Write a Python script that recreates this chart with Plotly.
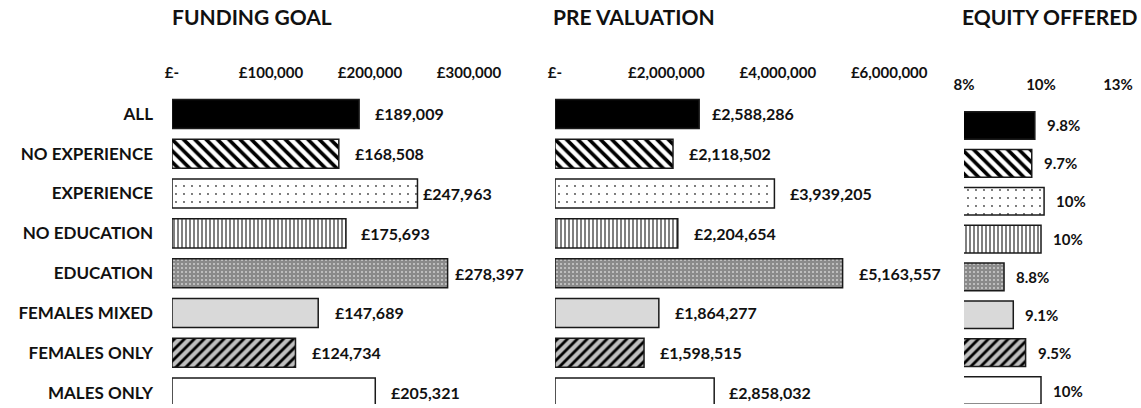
import plotly.graph_objects as go

W, H = 1141, 408

# ---------------- data ----------------
categories = ["ALL", "NO EXPERIENCE", "EXPERIENCE", "NO EDUCATION",
              "EDUCATION", "FEMALES MIXED", "FEMALES ONLY", "MALES ONLY"]
funding_goal = [189009, 168508, 247963, 175693, 278397, 147689, 124734, 205321]
pre_valuation = [2588286, 2118502, 3939205, 2204654, 5163557, 1864277, 1598515, 2858032]
equity_offered = [0.098, 0.097, 0.101, 0.100, 0.088, 0.091, 0.095, 0.100]
equity_labels = ["9.8%", "9.7%", "10%", "10%", "8.8%", "9.1%", "9.5%", "10%"]

funding_ticks = [0, 100000, 200000, 300000]
funding_ticktext = ["£-", "£100,000", "£200,000", "£300,000"]
pre_ticks = [0, 2000000, 4000000, 6000000]
pre_ticktext = ["£-", "£2,000,000", "£4,000,000", "£6,000,000"]
equity_ticks = [0.075, 0.10, 0.125]
equity_ticktext = ["8%", "10%", "13%"]

panel_titles = ["FUNDING GOAL", "PRE VALUATION", "EQUITY OFFERED"]

# ---------------- styles ----------------
FONT = "Lato"
TXT = "#111111"
pat_shape = ["", "\\", ".", "|", ".", "", "/", ""]
pat_bg = ["#000000", "#ffffff", "#ffffff", "#ffffff", "#8a8a8a", "#d9d9d9", "#bfbfbf", "#ffffff"]
pat_fg = ["#000000", "#000000", "#404040", "#808080", "#cfcfcf", "#d9d9d9", "#000000", "#ffffff"]
pat_size = [8, 8, 8, 4, 4, 8, 7, 8]
pat_solid = [0.3, 0.45, 0.04, 0.5, 0.2, 0.3, 0.4, 0.3]

funding_shift = [14, 14, 4, 13, 5, 15, 15, 14]
pre_shift = [11, 14, 14, 14, 14, 14, 14, 13]
equity_shift = [10, 10, 10, 10, 10, 10, 10, 10]


def dx(a, b):
    return [a / W, b / W]


def dy(top, bottom):
    return [1 - bottom / H, 1 - top / H]


fig = go.Figure()
for vals, xa, ya in [(funding_goal, "x", "y"), (pre_valuation, "x2", "y2"),
                     (equity_offered, "x3", "y3")]:
    for i, (c, v) in enumerate(zip(categories, vals)):
        fig.add_trace(go.Bar(
            x=[v], y=[c], orientation="h", xaxis=xa, yaxis=ya, width=0.73,
            marker=dict(
                color=pat_bg[i],
                line=dict(color="#1a1a1a", width=1.5),
                pattern=dict(shape=pat_shape[i], bgcolor=pat_bg[i], fgcolor=pat_fg[i],
                             fgopacity=1, size=pat_size[i], solidity=pat_solid[i],
                             fillmode="overlay"),
            ),
            showlegend=False, hoverinfo="skip"))

annotations = []
for c, v, s in zip(categories, funding_goal, funding_shift):
    annotations.append(dict(x=v, y=c, xref="x", yref="y", text=f"£{v:,}", showarrow=False,
                            xanchor="left", xshift=s,
                            font=dict(family=FONT, size=16, color=TXT, weight="bold")))
for c, v, s in zip(categories, pre_valuation, pre_shift):
    annotations.append(dict(x=v, y=c, xref="x2", yref="y2", text=f"£{v:,}", showarrow=False,
                            xanchor="left", xshift=s,
                            font=dict(family=FONT, size=16, color=TXT, weight="bold")))
for c, v, t, s in zip(categories, equity_offered, equity_labels, equity_shift):
    annotations.append(dict(x=v, y=c, xref="x3", yref="y3", text=t, showarrow=False,
                            xanchor="left", xshift=s,
                            font=dict(family=FONT, size=15, color=TXT, weight="bold")))

for t, cx in zip(panel_titles, [252, 634, 1049]):
    annotations.append(dict(x=cx / W, y=1 - 17 / H, xref="paper", yref="paper", text=t,
                            showarrow=False, xanchor="center", yanchor="middle",
                            font=dict(family=FONT, size=21, color=TXT, weight="bold")))

tickfont = dict(family=FONT, size=15, color=TXT, weight="bold")


def xaxis(domain, rng, tv, tt, anchor):
    return dict(domain=domain, range=rng, side="top", tickvals=tv, ticktext=tt,
                showgrid=False, zeroline=False, showline=False, ticks="",
                ticklabelstandoff=12, tickfont=tickfont, fixedrange=True, anchor=anchor,
                automargin=False)


def yaxis(domain, rng, show, anchor):
    return dict(domain=domain, range=rng, type="category", categoryorder="array",
                categoryarray=categories, showgrid=False, zeroline=False, showline=False,
                ticks="", showticklabels=show, ticklabelstandoff=18,
                tickfont=dict(family=FONT, size=17, color=TXT, weight="bold"),
                fixedrange=True, anchor=anchor, automargin=False)


fig.update_layout(
    width=W, height=H, margin=dict(l=0, r=0, t=0, b=0, autoexpand=False),
    paper_bgcolor="white", plot_bgcolor="white",
    barmode="overlay",
    xaxis=xaxis(dx(172, 530), [0, 358 / 0.00099], funding_ticks, funding_ticktext, "y"),
    xaxis2=xaxis(dx(555, 935), [0, 380 / 55.7e-6], pre_ticks, pre_ticktext, "y2"),
    xaxis3=xaxis(dx(964, 1138), [0.075, 0.075 + 174 / 3080], equity_ticks, equity_ticktext, "y3"),
    yaxis=yaxis(dy(94, 404), [7.286, -0.5], True, "x"),
    yaxis2=yaxis(dy(94, 404), [7.286, -0.5], False, "x2"),
    yaxis3=yaxis(dy(106, 404), [7.356, -0.515], False, "x3"),
    annotations=annotations,
)

fig.write_html("out.html", config={"displayModeBar": False},
               post_script="document.body.style.margin='0px';")
